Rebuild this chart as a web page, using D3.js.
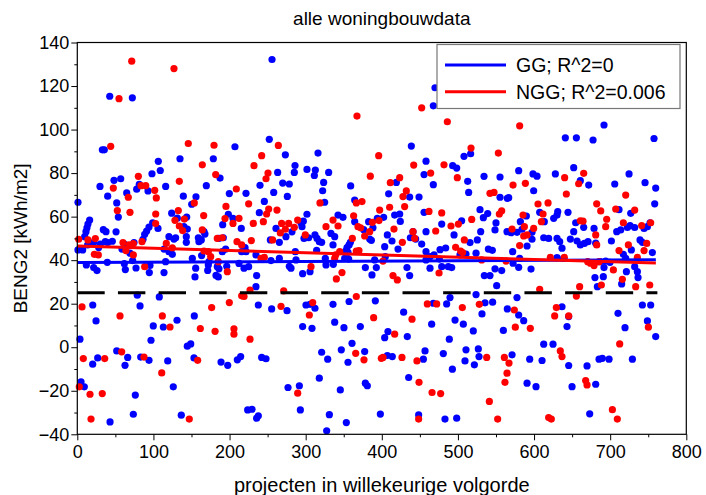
<!DOCTYPE html>
<html><head><meta charset="utf-8">
<script src="https://cdn.jsdelivr.net/npm/d3@7"></script>
<style>
body{margin:0;background:#fff}
svg{display:block}
text{font-family:"Liberation Sans",Arial,Helvetica,sans-serif;fill:#000}
</style>
</head><body>
<svg id="chart" width="706" height="495"></svg>
<script>
// ---------- data ----------
const title = "alle woningbouwdata";
const xLabel = "projecten in willekeurige volgorde";
const yLabel = "BENG2 [kWh/m2]";
const xTicks = [0,100,200,300,400,500,600,700,800];
const yTicks = [-40,-20,0,20,40,60,80,100,120,140];
const seriesNames = ["GG; R^2=0","NGG; R^2=0.006"];
const trendX = [0,760];
const ggTrend = [38.9,40.2];
const nggTrend = [46.5,38.7];
const thresholdX = [0,762];
const thresholdY = 25;

const ggPoints = [
[42.6,115.3],[72.3,114.6],[32.9,90.7],[35.5,90.7],[134.9,86.6],[178.7,86.6],[106.4,85.4],[109,81.2],[187.5,77.7],[98.1,79.7],[57,77.4],[48.2,76.7],[29.8,73.9],[81.4,74.8],[78,72.6],[92.9,71.8],[116.1,73.9],[169.5,74.2],[64.9,70.9],[39.9,69.4],[139.3,69.4],[155.9,69.1],[150.3,65.7],[0.9,66.6],[51.8,66.3],[53.9,59.8],[124,61.6],[131.4,59.3],[143.7,59.8],[198.4,61.1],[199.7,70.6],[191,56.3],[50.9,53],
[16.2,58.4],[14,56.6],[12.7,54.9],[11.4,53.1],[9.7,50.8],[34.2,54],[37.7,53.1],[99,57.2],[94.2,55.2],[91.1,53.4],[88.5,51.9],[106,54.6],[0.9,44.7],[7.05,44.7],[13.6,47],[21.5,48.2],[28.1,45.8],[30.3,47.4],[36.8,48.5],[39.9,48.1],[46,48.7],[62.2,47.3],[63.1,45.1],[74.5,48.1],[86.3,49.6],[69.2,43.2],[58.7,45.1],[11.9,37.8],[21.5,36.6],[25.9,35.2],[39.4,39],[61.8,38.4],[63.1,35.7],[72.7,39.8],[94.6,34.3],[77.1,36.4],[95.5,37.6],
[140.1,55.4],[144.5,54.3],[120.4,50.8],[127,49.7],[129.2,50.3],[143.2,50.8],[143.2,48.2],[159,50.3],[159.8,48.5],[162.9,49.3],[166.4,53.1],[167.7,52],[113.9,45.1],[120.4,43.9],[124.8,42.7],[163.3,42.1],[173,39.3],[172.1,37.8],[151.1,40.8],[155.5,36.3],[116,39.3],[113.9,34.3],[183.9,37],[186.1,36],[190.5,43.9],[194.9,45.1],[186.1,50],[191.8,50.3],[154.6,32.3],[182.2,33],[185.2,32.3],[171.3,35.3],[196.3,37.2],
[20.3,19.4],[78.8,23.9],[82.4,19],[24.6,12.1],[107.7,23.1],[131,12.4],[99.8,9.8],[113,9.3],[96.8,3.2],[3.5,3.7],[153.7,14.4],[51.8,-1.7],[144.5,0.5],[149,1.5],[26.8,-4.9],[20.2,-7.8],[66.2,-4.7],[62.7,-8.3],[83.3,-4.5],[94.2,-6],[118.8,-6.3],[153.3,-4.9],[188.8,-6.8],[197.6,-8.3],[4.9,-15.9],[9.2,-18.2],[126.1,-18.2],[76.2,-22],[73.6,-30.8],[136.6,-31.2],[43,-34.3],
[207.1,92.1],[204.5,59.2],[215.4,54.6],[215.9,43.9],[220.3,45.8],[212.4,38.5],[219,36.3],[214.6,-4.3],[210.2,-5.8],
[255.8,132.2],[252.2,95.5],[273.3,88.4],[316.2,89.2],[286,83.5],[285.1,80.3],[263.2,80.3],[301.7,81.7],[312.7,81.4],[311.4,78.9],[330.2,80.3],[240,74.4],[269.8,75.4],[278.5,75],[323.6,75.7],[322.3,71.9],[258,71.1],[275.9,69.3],[221.6,70.7],[245.7,67],[324.9,66.6],[239.1,61.8],[301.7,61.1],[293.8,57.2],[295.2,55.4],[296.9,57.9],[261,54.6],[274.1,50.8],[282,53],[333.2,52.3],[265.4,48.2],[253.6,49.3],[297.8,50],[303.9,50.3],[312.2,51.6],[314.9,50],[317.9,48.5],[321,48.2],[314.4,44.5],[286.4,43.9],[287.3,40.1],[221.6,43.9],[234.7,42.4],[254.4,39.8],[265.4,40.8],[325.8,40.8],[336.3,38.1],[326.7,37.8],[305.7,34.7],[296,33.8],[278.5,37.2],[280.7,36.3],[225.1,37],[235.6,32.9],[234.7,27.8],[237.8,19.4],[255.3,17.6],[275.5,16.8],[300.4,19.4],[305.7,19.7],[312.2,17.9],[296,9.5],[308.3,8.7],[242.2,-4.7],[247.9,-5.3],[321,-2.3],[328.9,-5.5],[317.9,-14.2],[276.8,-18.5],[291.7,-17.7],[223.8,-28.8],[229.5,-28.5],[235.6,-32.6],[237.8,-31.5],[293,-28.8],[331.1,-31],[327.6,-38.4],
[438.8,92.4],[359.1,74.1],[419.1,75.7],[409,70.5],[436.6,69],[448.9,69],[364.4,67.6],[416.9,60.7],[423.5,61.2],[424.3,57.8],[342.5,60.7],[349,59.7],[364.4,57.7],[376.2,54],[382.7,57.7],[388.4,54.9],[394.1,59.2],[402.4,59.7],[407.3,51.6],[413.4,48.8],[384.1,49.7],[386.3,49.1],[338.1,50.8],[335.9,47],[354.3,45.8],[357,47],[358.7,48.2],[352.5,44.2],[355.6,43.6],[403.8,46.2],[421.3,45.1],[437.5,50.3],[444.5,49.7],[441,53.1],[351.2,40.8],[356.5,40.5],[390.6,40.1],[378.4,36.6],[392.8,36.6],[387.1,33.2],[404.6,41.6],[433.1,36.6],[436.6,32.9],[357,21],[391.5,21.3],[335.9,19.7],[428.7,16.1],[338.1,11.5],[350.3,9],[371.8,9.5],[408.1,7.2],[403.8,4.4],[433.5,4.9],[360.9,1.8],[346.8,-1.2],[355.6,-6.9],[377.5,-2],[407.3,-3.8],[413.8,-4.3],[435.3,-13.9],[378.4,-16.5],[381,-17.7],[345.5,-19.6],[398.1,-30.7],[353.4,-34.6],[448.4,-31.1],
[467.7,110.9],[469.9,119.2],[508,87.7],[516.7,88.9],[458.1,85.5],[493.1,83.4],[498.4,82.3],[455.5,79.3],[534.3,78.5],[555.3,78.2],[512.8,76.2],[467.7,74.7],[514.1,71.1],[555.3,68.9],[564.9,68.4],[529,63.2],[539.1,61.4],[533.4,59.5],[455.5,62],[504.9,58.1],[478.7,56.6],[550,57.1],[548.7,53.9],[458.1,53.1],[494.9,51.6],[529.9,53.1],[515.9,48.1],[525.5,49.3],[452.4,47.4],[458.1,43.9],[463.3,41.6],[476.5,44.8],[483.9,45.6],[468.6,42.4],[475.6,40.5],[510.6,42.8],[523.8,43.2],[540,45.1],[545.2,44.5],[458.1,40.1],[463.3,36.3],[478.7,37],[487.4,37],[548.7,36],[557.5,35.2],[491.8,36.6],[534.7,32.9],[542.1,32.9],[550.9,28.3],[502.7,42.4],[467.7,20.2],[485.2,19.9],[489.6,22.8],[523.8,24.2],[535.6,20.4],[545.6,20.7],[564.9,17.6],[531.6,15.3],[496.2,12.5],[507.1,10.6],[520.2,7.5],[465.5,10.6],[559.7,7.7],[488.7,3.7],[456.8,-1.7],[454.6,-5.5],[480.8,-2.9],[510.6,-1.2],[526.8,-0.8],[527.7,-4.3],[509.3,-6.3],[521.6,-8.1],[492.7,-10.1],[483,-33],[498.4,-32.6],
[641.1,96.2],[655.6,96.2],[677.5,95.2],[579.8,81.1],[598.6,79.6],[603.9,78.6],[628,79.6],[652.1,82.5],[599.5,71.9],[660.8,76.5],[671.8,74.5],[566.7,68.7],[644.6,62],[631.1,62.3],[607.4,62],[589.9,60.3],[613.5,57.7],[625.8,59.2],[630.2,60.7],[582,57.7],[584.2,54.2],[597.3,52.8],[654.7,57.2],[665.2,55.1],[652.1,53.1],[564.5,53.1],[569.8,52.6],[577.6,52.8],[612.7,50.3],[619.2,50],[630.2,50],[633.7,48.5],[636.7,45.5],[647.7,49.7],[656.5,48.8],[660.8,47],[666.1,47.7],[670.9,48.5],[597.3,49.6],[590.8,46.5],[571.9,43.9],[581.1,40.8],[572.4,38.6],[579.8,36.7],[596,35.9],[630.2,41.2],[638.9,40.8],[577.6,22.8],[636.7,18.6],[645.5,14.1],[643.3,9.5],[579.8,14.8],[586.4,12.2],[612.7,1.4],[624.9,1.4],[571.1,-3.5],[594.3,-5.5],[610.5,-6.1],[645.5,-8.4],[669.6,-8.6],[590.8,-16.5],[602.6,-18.1],[649.9,-18.1],[673.1,-30.6],
[691.9,102.1],[757.6,95.9],[724.8,79.6],[706,75],[745.8,75.6],[759.8,73.1],[758.5,65.9],[711.6,63.2],[727,61.5],[678.8,54.6],[681,47.8],[701.6,48.8],[708.6,53.1],[713.8,53.9],[722.6,55],[726.1,55.9],[732.2,55],[744.5,54.6],[748.9,55.4],[752.4,57.2],[727.8,44.7],[739.2,49.3],[742.3,48.2],[755.4,43.5],[717.3,42.7],[720.4,40.8],[694.1,39.6],[699.8,39],[686.7,39.3],[732.2,37],[735.7,34.7],[691.9,36.6],[691,32.4],[721.3,34.7],[715.1,29.1],[736.6,32],[680,32],[683.2,27.8],[742.3,19.4],[753.2,19.4],[710.3,15.6],[748.9,12.1],[719.5,9],[759.8,4.9],[685.4,-5.5],[689.7,-5.1],[698.5,-5.5],[729.2,-5.5],[681,-17]
];

const nggPoints = [
[71.5,131.4],[127,128],[54.8,114.2],[43.9,92.3],[145.8,93.6],[179.6,92.8],[164.2,83.8],[181.8,79.3],[80.2,78.5],[47.3,73.1],[83.7,74.2],[89.9,74.2],[101.7,72.1],[134,76.2],[67,68.9],[103.8,68.6],[153.7,66.3],[52.6,62.8],[69.2,62],[103,61.2],[132.7,62.8],[128.3,58.3],[140.6,58.9],[134,55.7],[138.4,53.6],[166,60.5],[195.3,64.7],[194,59.1],
[102.9,56.8],[1.8,49.6],[14,49.3],[23.7,49.9],[60,48.1],[67.9,47],[63.9,44.4],[85,48.5],[22.4,42.7],[27.6,42.4],[73.6,42.4],[88.5,37],[73.6,47.6],
[116.9,47.7],[124.8,45.7],[166.4,44.2],[172.1,43.9],[175.2,41.6],[185.2,39.3],[197.1,34.7],[183.9,50],[190.5,50.3],[164.2,53.9],
[6.2,18.5],[56.1,14.4],[111.7,14.4],[121.8,9.3],[176.5,18.2],[161.6,8.6],[181,7.3],[199.7,20.5],[58.3,-2.1],[7.9,-5.2],[36,-5.2],[87.6,-4.5],[158.1,-6],[110.9,-11.8],[2.6,-18.2],[16.7,-21.6],[32.8,-21.3],[18,-33],[147.1,-33],
[208.9,72.7],[212.4,59.2],[204.5,56.9],[209.8,48.5],[215.9,47],[215.9,23.6],[219,23.3],[205.8,8.5],[205.8,6.0],
[264.1,92.7],[242.2,88],[232.1,83.4],[250.5,80],[247.9,77.4],[225.1,65.9],[318.8,66.3],[251.4,63.5],[262.3,63],[248.7,61.2],[231.2,56.9],[244.4,57.7],[268.4,56.9],[277.6,56.9],[273.3,54.2],[266.7,52.5],[285.1,55.1],[289.5,58.4],[326.7,55.4],[256.6,49.3],[228.6,49],[299.5,51.6],[241.3,40.8],[245.7,41.3],[307,37],[226.9,26.3],[271.1,25.9],[267.6,18.8],[309.2,20.5],[304.8,14.8],[226.9,3.7],[289.5,-21.1],
[367.4,106.2],[452.4,110],[395.9,88],[441.9,83.7],[384.9,78.6],[411.2,75.6],[423.5,77.9],[432.2,71.8],[427.8,69.2],[430,64.6],[366.5,66.3],[374,66.9],[410.3,64.3],[397.2,63],[363,60.4],[335.9,58.4],[342.5,55.7],[368.7,55.4],[372.2,54.9],[387.6,57.4],[396.3,58.2],[416,54.3],[384.1,53.1],[377.5,51.1],[361.3,50],[366.5,44.2],[427,48.2],[441,53.1],[443.2,50],[339.4,42.4],[338.1,40.8],[370,44.4],[344.7,43.9],[401.6,39.6],[414.7,32.9],[420.4,30.9],[340.3,31.4],[347.7,34.3],[366.5,23.3],[389.3,13.6],[439.7,12.9],[416.9,6],[365.7,-2.8],[376.6,-5.8],[399.4,-5.1],[401.6,-4.7],[426.5,-4.7],[446.2,-6.3],[448.9,-16.1],[448.4,-33],
[486.1,103.6],[517.2,91.5],[553.1,89.2],[481.7,83.8],[464.2,80],[499.2,77.9],[542.1,70.7],[547.4,71.1],[462,62.4],[478.7,61.7],[554.4,61.2],[557.5,62.7],[518.1,58.7],[490.9,55.7],[500.6,56.6],[470.8,53.4],[508.4,49.3],[497,45.9],[503.6,44.2],[506.2,43.5],[531.2,40.1],[563.2,39.6],[475.2,34.1],[459.8,19.9],[472.1,19.9],[505.8,18.2],[528.1,19.7],[537.8,-4.7],[561,-4.7],[567.1,-7.3],[466,-20.8],[477.3,-21.3],[561.8,-16.1],[541.3,-24.9],[552.2,-33],
[581.1,101.7],[640.2,77.9],[665.2,79.9],[572.4,74.5],[588.6,75.3],[658.6,75.1],[642.4,70.4],[605.2,65.8],[618.4,66.3],[585.5,60.7],[611.8,61.2],[609.6,57.7],[571.1,54.3],[587.3,55.4],[599.5,54.6],[660.8,58.1],[664.3,57.9],[590.8,51.6],[586.4,51.1],[581.1,46.7],[621.4,41.3],[639.8,41.3],[670.5,39.3],[674,38.6],[607.4,26.6],[659.9,27.8],[655.6,23.5],[574.1,17.1],[629.3,18.2],[627.1,14.4],[645.5,14.4],[575.4,9.2],[595.1,8.7],[634.5,-1.7],[636.7,-4.3],[564.5,-11.9],[667.8,-15.3],[669.6,-17.3],[619.2,-32.3],[622.7,-33],
[720.4,69.9],[682.3,65.9],[687.6,62.6],[707.3,63.5],[732.2,63],[695.4,58.8],[694.1,55.4],[717.3,57.2],[741.4,55.9],[753.2,57.2],[681,51.6],[682.3,47],[711.6,44.4],[723.9,47],[735.7,41.3],[744.5,44.4],[748,47.7],[704.2,35.5],[678.8,37.5],[685.4,39.3],[716,31.2],[752,28.6],[733.5,27.8],[688.4,28.6],[750.2,9.2],[712.5,1.5],[702.9,-28.7],[709.4,-33]
];

// ---------- drawing ----------
const W = 706, H = 495;
const plot = {left:77.3, right:686.3, top:42.5, bottom:434.3};
const svg = d3.select("#chart");
svg.append("rect").attr("width",W).attr("height",H).attr("fill","#fff");

const x = d3.scaleLinear().domain([0,800]).range([plot.left, plot.right]);
const y = d3.scaleLinear().domain([-40,140]).range([plot.bottom, plot.top]);

const blue = "#0000ff", red = "#ff0000";
const r = 3.6;

const gPlot = svg.append("g");
gPlot.append("g").selectAll("circle").data(ggPoints).join("circle")
  .attr("cx", d=>x(d[0])).attr("cy", d=>y(d[1])).attr("r", r).attr("fill", blue);
gPlot.append("g").selectAll("circle").data(nggPoints).join("circle")
  .attr("cx", d=>x(d[0])).attr("cy", d=>y(d[1])).attr("r", r).attr("fill", red);

const line = d3.line().x(d=>x(d[0])).y(d=>y(d[1]));
gPlot.append("path").datum(trendX.map((v,i)=>[v, ggTrend[i]])).attr("d", line)
  .attr("stroke", blue).attr("stroke-width", 3).attr("fill","none");
gPlot.append("path").datum(trendX.map((v,i)=>[v, nggTrend[i]])).attr("d", line)
  .attr("stroke", red).attr("stroke-width", 3).attr("fill","none");
const dashLen = x(36) - x(0), gapLen = x(53.4) - x(36);
gPlot.append("path").datum(thresholdX.map(v=>[v, thresholdY])).attr("d", line)
  .attr("stroke", "#000").attr("stroke-width", 3).attr("fill","none")
  .attr("stroke-dasharray", dashLen + "," + gapLen);

// axes
const fs = 18;
const xAxis = d3.axisBottom(x).tickValues(xTicks).tickSize(6).tickSizeOuter(0).tickFormat(d3.format("d"));
const xAxisMinor = d3.axisBottom(x).tickValues(d3.range(50,800,100)).tickSize(3).tickSizeOuter(0).tickFormat("");
const yAxis = d3.axisLeft(y).tickValues(yTicks).tickSize(6).tickSizeOuter(0).tickFormat(d3.format("d"));
const yAxisMinor = d3.axisLeft(y).tickValues(d3.range(-30,140,20)).tickSize(3).tickSizeOuter(0).tickFormat("");

function styleAxis(g){
  g.select(".domain").remove();
  g.selectAll(".tick line").attr("stroke","#000").attr("stroke-width",1);
  g.selectAll(".tick text").attr("font-size",fs).attr("font-family",'"Liberation Sans",Arial,sans-serif').attr("fill","#000");
}
svg.append("g").attr("transform",`translate(0,${plot.bottom})`).call(xAxis).call(styleAxis)
  .selectAll(".tick text").attr("dy","0.85em").attr("y",8);
svg.append("g").attr("transform",`translate(0,${plot.bottom})`).call(xAxisMinor).call(styleAxis);
svg.append("g").attr("transform",`translate(${plot.left},0)`).call(yAxis).call(styleAxis)
  .selectAll(".tick text").attr("x",-8);
svg.append("g").attr("transform",`translate(${plot.left},0)`).call(yAxisMinor).call(styleAxis);

// frame
svg.append("rect").attr("x",plot.left).attr("y",plot.top)
  .attr("width",plot.right-plot.left).attr("height",plot.bottom-plot.top)
  .attr("fill","none").attr("stroke","#000").attr("stroke-width",1.2);

// legend
const lg = svg.append("g");
lg.append("rect").attr("x",437).attr("y",44.5).attr("width",243).attr("height",64)
  .attr("fill","#fff").attr("stroke","#777").attr("stroke-width",1.2);
const legendItems = [{name:seriesNames[0], color:blue},{name:seriesNames[1], color:red}];
legendItems.forEach((it,i)=>{
  const yy = 65 + i*26.7;
  lg.append("line").attr("x1",445).attr("x2",506).attr("y1",yy).attr("y2",yy)
    .attr("stroke",it.color).attr("stroke-width",3);
  lg.append("text").attr("x",516).attr("y",yy).attr("dy","0.36em")
    .attr("font-size",19.5).text(it.name);
});

// titles
svg.append("text").attr("x",(plot.left+plot.right)/2).attr("y",25)
  .attr("text-anchor","middle").attr("font-size",19).text(title);
svg.append("text").attr("x",(plot.left+plot.right)/2).attr("y",492)
  .attr("text-anchor","middle").attr("font-size",20).text(xLabel);
svg.append("text").attr("transform",`translate(27,${(plot.top+plot.bottom)/2}) rotate(-90)`)
  .attr("text-anchor","middle").attr("font-size",19).text(yLabel);
</script>
</body></html>
